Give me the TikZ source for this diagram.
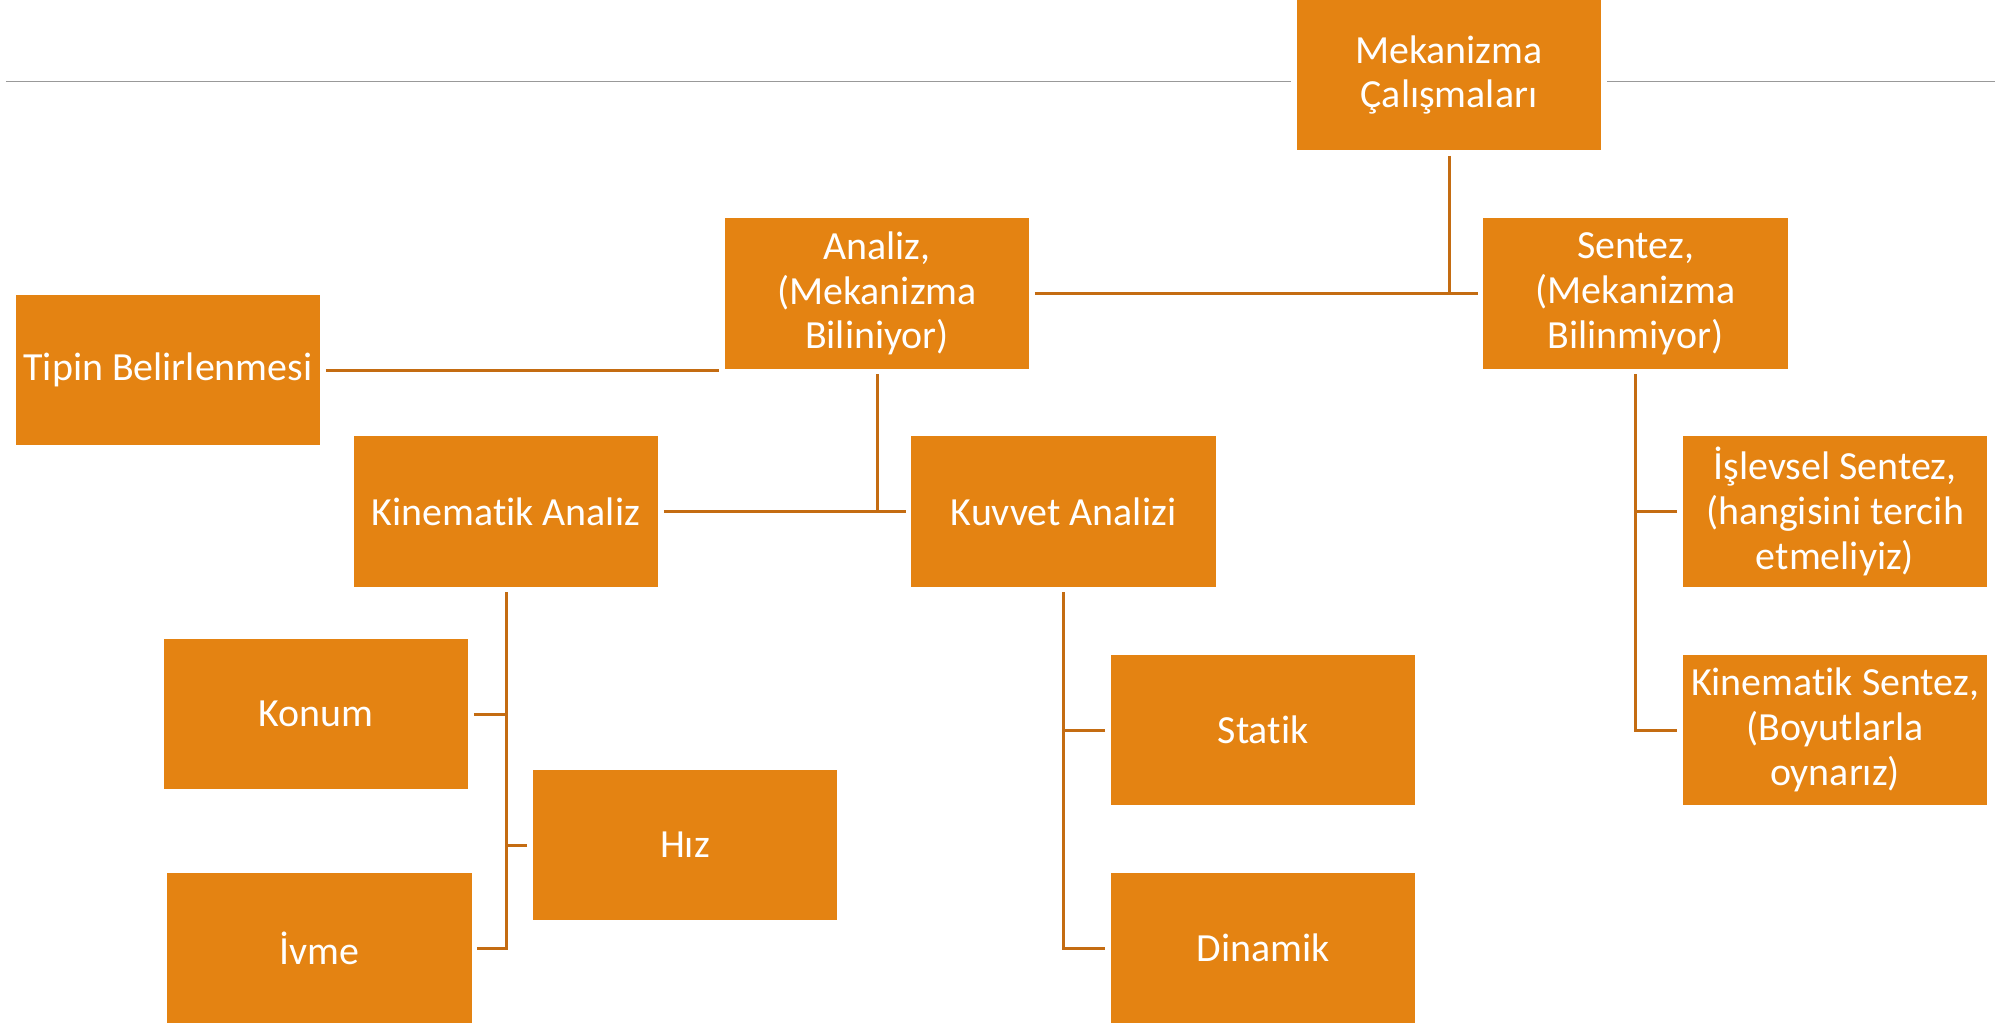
\documentclass[tikz,border=0pt]{standalone}
\usepackage{fontspec}
\setmainfont{Carlito}[Ligatures=NoCommon]
\usepackage{tikz}
\definecolor{turuncu}{HTML}{E48312}
\definecolor{koyuturuncu}{HTML}{C46C12}
\definecolor{gri}{HTML}{999999}

\begin{document}
\begin{tikzpicture}[
 kutu/.style={fill=turuncu,draw=white,line width=3.2pt,minimum width=6.2cm,minimum height=3.12cm,
  inner sep=0pt,align=center,text=white,font=\fontsize{22.7}{25.5}\selectfont},
 baglanti/.style={draw=koyuturuncu,line width=1.7pt}]
 \useasboundingbox (0,0) rectangle (39.9,-20.46); %sayfa
 \draw[gri,line width=0.75pt] (0.12,-1.634)--(39.9,-1.634); %ust cizgi
 \node[kutu] (mek) at (28.98,-1.5) {Mekanizma\\Çalışmaları}; %kok
 \node[kutu] (analiz) at (17.54,-5.87) {Analiz,\\(Mekanizma\\Biliniyor)};
 \node[kutu] (sentez) at (32.71,-5.87) {Sentez,\\(Mekanizma\\Bilinmiyor)};
 \node[kutu] (tipin) at (3.36,-7.4) {Tipin Belirlenmesi};
 \node[kutu] (kinan) at (10.12,-10.23) {Kinematik Analiz};
 \node[kutu] (kuvvet) at (21.27,-10.23) {Kuvvet Analizi};
 \node[kutu] (islevsel) at (36.7,-10.23) {İşlevsel Sentez,\\(hangisini tercih\\etmeliyiz)};
 \node[kutu] (kinsentez) at (36.7,-14.6) {Kinematik Sentez,\\(Boyutlarla\\oynarız)};
 \node[kutu] (konum) at (6.32,-14.28) {Konum};
 \node[kutu] (hiz) at (13.7,-16.9) {Hız};
 \node[kutu] (ivme) at (6.39,-18.96) {İvme};
 \node[kutu] (statik) at (25.26,-14.6) {Statik};
 \node[kutu] (dinamik) at (25.26,-18.96) {Dinamik};
 \draw[baglanti] (mek.south)--(mek.south |- analiz.east); %kokten asagi
 \draw[baglanti] (analiz.east)--(sentez.west);
 \draw[baglanti] (tipin.east)--(tipin.east -| analiz.west);
 \draw[baglanti] (analiz.south)--(analiz.south |- kinan.east);
 \draw[baglanti] (kinan.east)--(kuvvet.west);
 \draw[baglanti] (kinan.south) |- (ivme.east); %kinematik alt dal
 \draw[baglanti] (konum.east)--(konum.east -| kinan.south);
 \draw[baglanti] (hiz.west)--(hiz.west -| kinan.south);
 \draw[baglanti] (kuvvet.south) |- (dinamik.west); %kuvvet alt dal
 \draw[baglanti] (statik.west)--(statik.west -| kuvvet.south);
 \draw[baglanti] (sentez.south) |- (kinsentez.west); %sentez alt dal
 \draw[baglanti] (islevsel.west)--(islevsel.west -| sentez.south);
\end{tikzpicture}
\end{document}
